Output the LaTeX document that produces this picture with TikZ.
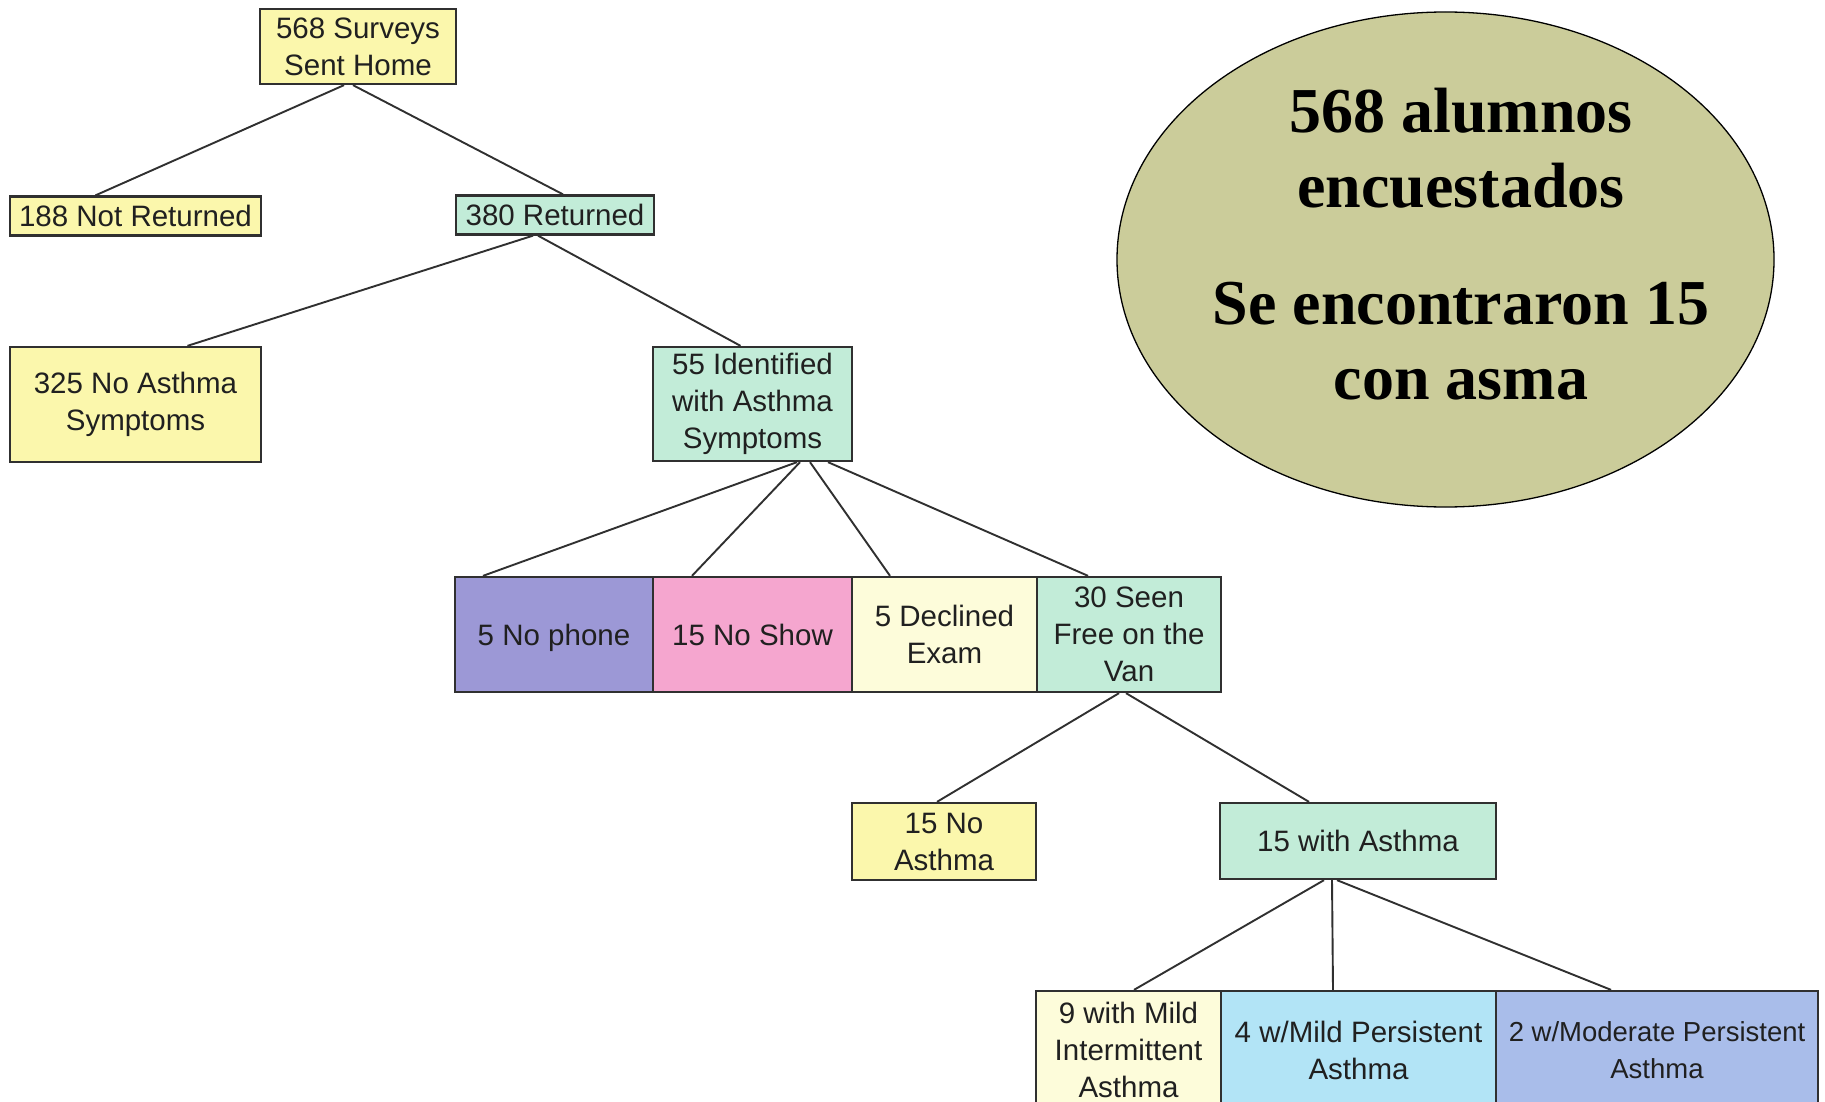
\documentclass[tikz,border=0pt]{standalone}
\usepackage{fontspec}
\setmainfont{Liberation Sans}
\newfontfamily\serifbold{Liberation Serif}
\usetikzlibrary{calc,shapes.geometric}
\definecolor{ylw}{HTML}{FBF7AC}
\definecolor{mint}{HTML}{C2ECD8}
\definecolor{lav}{HTML}{9C98D6}
\definecolor{pnk}{HTML}{F5A6CF}
\definecolor{crm}{HTML}{FDFCDA}
\definecolor{sky}{HTML}{B2E4F6}
\definecolor{peri}{HTML}{A9BDEA}
\definecolor{khaki}{HTML}{CBCC9A}
\definecolor{boxline}{HTML}{303030}
\definecolor{txt}{HTML}{202020}
\begin{document}
\begin{tikzpicture}[x=1pt,y=-1pt,
  box/.style={draw=boxline,line width=2.3pt,inner sep=0pt,align=center,text=txt,
    font=\fontsize{29.5}{37}\selectfont},
  conn/.style={draw=boxline,line width=1.9pt}]
\fill[white] (0,0) rectangle (1825,1102);
\useasboundingbox (0,0) rectangle (1825,1102);

% oval note
\node[ellipse,draw=black,line width=1.3pt,fill=khaki,minimum width=657,minimum height=495,inner sep=0pt] (oval) at (1445.5,259.5) {};
\node[font=\serifbold\bfseries\fontsize{64}{75}\selectfont,align=center,inner sep=0pt] (note) at (1461,244)
  {568 alumnos\\encuestados\\[42pt]Se encontraron 15\\con asma};

% tree boxes
\node[box,fill=ylw,minimum width=196,minimum height=75] (top) at (358,46.5) {568 Surveys\\Sent Home};
\node[box,fill=ylw,minimum width=251,minimum height=39] (notret) at (135.5,216) {188 Not Returned};
\node[box,fill=mint,minimum width=198,minimum height=39] (ret) at (555,215) {380 Returned};
\node[box,fill=ylw,minimum width=251,minimum height=115] (noasth) at (135.5,404.5) {325 No Asthma\\Symptoms};
\node[box,fill=mint,minimum width=199,minimum height=114] (ident) at (752.5,404) {55 Identified\\with Asthma\\Symptoms};

\node[box,fill=lav,minimum width=198,minimum height=115,text depth=0pt] (nophone) at (554,634.5) {5 No phone};
\node[box,fill=pnk,minimum width=199,minimum height=115] (noshow) at (752.5,634.5) {15 No Show};
\node[box,fill=crm,minimum width=185,minimum height=115] (declined) at (944.5,634.5) {5 Declined\\Exam};
\node[box,fill=mint,minimum width=184,minimum height=115] (seen) at (1129,634.5) {30 Seen\\Free on the\\Van};

\node[box,fill=ylw,minimum width=184,minimum height=77] (noasthma) at (944,841.5) {15 No\\Asthma};
\node[box,fill=mint,minimum width=276,minimum height=76] (withasthma) at (1358,841) {15 with Asthma};

\node[box,fill=crm,minimum width=185,minimum height=118] (mildint) at (1128.5,1050) {9 with Mild\\Intermittent\\Asthma};
\node[box,fill=sky,minimum width=275,minimum height=118] (mildpers) at (1358.5,1050) {4 w/Mild Persistent\\Asthma};
\node[box,fill=peri,minimum width=322,minimum height=118,font=\fontsize{27.5}{37}\selectfont] (modpers) at (1657,1050) {2 w/Moderate Persistent\\Asthma};

% connectors
\draw[conn] ($(top.south)+(-14,0)$) -- ($(notret.north)+(-40,0)$);
\draw[conn] ($(top.south)+(-5,0)$) -- ($(ret.north)+(8,0)$);
\draw[conn] ($(ret.south)+(-22,0)$) -- ($(noasth.north)+(52,0)$);
\draw[conn] ($(ret.south)+(-17,0)$) -- ($(ident.north)+(-12,0)$);
\draw[conn] ($(ident.south)+(44.5,0)$) -- ($(nophone.north)+(-71,0)$);
\draw[conn] ($(ident.south)+(47.5,0)$) -- ($(noshow.north)+(-60.5,0)$);
\draw[conn] ($(ident.south)+(57.5,0)$) -- ($(declined.north)+(-54.5,0)$);
\draw[conn] ($(ident.south)+(75.5,0)$) -- ($(seen.north)+(-41,0)$);
\draw[conn] ($(seen.south)+(-10,0)$) -- ($(noasthma.north)+(-7,0)$);
\draw[conn] ($(seen.south)+(-3,0)$) -- ($(withasthma.north)+(-49,0)$);
\draw[conn] ($(withasthma.south)+(-34,0)$) -- ($(mildint.north)+(5.5,0)$);
\draw[conn] ($(withasthma.south)+(-26,0)$) -- ($(mildpers.north)+(-25.5,0)$);
\draw[conn] ($(withasthma.south)+(-21,0)$) -- ($(modpers.north)+(-46,0)$);
\end{tikzpicture}
\end{document}
